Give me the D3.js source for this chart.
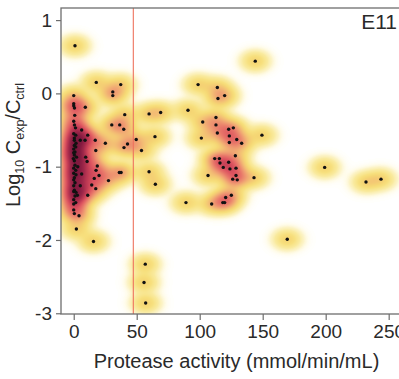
<!DOCTYPE html>
<html><head><meta charset="utf-8">
<script src="https://cdn.jsdelivr.net/npm/d3@7"></script>
<style>body{margin:0;background:#fff}svg{display:block}</style>
</head><body><div id="chart"></div>
<script>
// ---- data ----
const activity = [1.0,0,0,0,0.6,0.8,0,0.6,1.4,0,1.6,0.5,0.5,0.5,1.6,0,1.0,0.5,-0.3,0.5,1.0,3.2,1.6,0,0.5,0,0.5,0,1.8,1.0,2.9,0,1.6,0,0,0.5,4.2,2.1,1.8,0,2.2,0,1.8,1.0,0,
  9.2,6.3,11.1,5.2,9.0,17.1,25.1,17.5,9.5,10.6,18.7,17.7,20.1,6.3,16.3,27.6,14.3,17.5,5.2,11.1,15.7,17.9,37.3,31.0,31.0,
  40.5,30.2,36.5,39.7,49.6,42.7,39.9,53.8,64.5,59.8,69.0,36.2,37.6,59.8,64.8,56.8,55.8,57.1,
  90.7,98.7,114.0,119.8,114.5,144.1,102.4,112.9,112.9,114.0,123.0,126.7,123.5,129.4,123.5,133.3,149.4,101.3,
  128.3,111.9,115.6,116.1,123.0,118.7,124.0,128.8,106.6,128.8,126.2,129.8,143.1,89.1,109.5,118.3,119.8,120.6,125.1,
  199.2,232.0,243.9,169.5];
const logRatio = [0.65,-0.03,-0.14,-0.17,-0.2,-0.30,-0.38,-0.43,-0.47,-0.55,-0.57,-0.61,-0.64,-0.71,-0.73,-0.76,-0.80,-0.84,-0.89,-0.92,-0.98,-1.0,-1.05,-1.09,-1.15,-1.18,-1.32,-1.34,-1.35,-1.40,-1.39,-1.45,-1.49,-1.51,-1.59,-1.64,-1.67,-1.85,-0.68,-0.81,-0.87,-1.02,-1.11,-1.22,-1.26,
  -0.19,-0.50,-0.57,-0.64,-0.64,-0.64,-0.68,-0.78,-0.87,-0.93,-0.99,-1.05,-1.12,-1.10,-1.16,-1.19,-1.25,-1.30,-1.26,-1.39,-2.02,0.15,0.12,0.02,-0.03,
  -0.29,-0.43,-0.43,-0.49,-0.63,-0.69,-0.74,-0.78,-0.59,-0.28,-0.26,-1.08,-1.08,-1.07,-1.24,-2.33,-2.58,-2.86,
  -0.23,0.12,0.08,-0.03,-0.07,0.44,-0.39,-0.33,-0.43,-0.54,-0.49,-0.47,-0.58,-0.63,-0.67,-0.68,-0.57,-0.61,
  -0.85,-0.89,-0.89,-0.95,-0.94,-1.01,-1.03,-1.02,-1.12,-1.12,-1.17,-1.18,-1.15,-1.49,-1.51,-1.49,-1.49,-1.42,-1.39,
  -1.01,-1.21,-1.17,-1.99];
const xTicks = [0,50,100,150,200,250];
const yTicks = [1,0,-1,-2,-3];
const thresholdActivity = 47.3;
const panelLabel = "E11";
const xTitle = "Protease activity (mmol/min/mL)";

// ---- layout ----
const W = 399, H = 379;
const L = 61, T = 8, B = 314;
const x = d3.scaleLinear().domain([-10.1, 262]).range([L, 403.8]);
const y = d3.scaleLinear().domain([-3.01, 1.165]).range([B, T]);

const svg = d3.select("#chart").append("svg").attr("width", W).attr("height", H)
  .style("font-family", "'Liberation Sans', Arial, sans-serif");

// ---- density heat map ----
const pts = activity.map((a, i) => [x(a), y(logRatio[i])]);
const sx = 8.5, sy = 6.2;
const stops = [0, 0.05, 0.15, 0.35, 0.7, 1.0, 1.5, 2.2, 3.0, 4.0, 5.0, 6.2, 7.5, 9.5];
const cols = ["#ffffff","#fffcec","#fcf3c6","#f9ea9e","#f7e07e","#f5d674","#f3bf74","#ef9c72","#e8786a","#dd5560","#c23c55","#a0284a","#841a40","#6c1236"];
const cScale = d3.scaleLinear().domain(stops).range(cols).interpolate(d3.interpolateRgb).clamp(true);
const N = 2048, dMax = 14;
const lut = d3.range(N).map(i => d3.rgb(cScale(i / (N - 1) * dMax)));
const canvas = document.createElement("canvas");
canvas.width = W; canvas.height = H;
const ctx = canvas.getContext("2d");
const img = ctx.createImageData(W, H);
for (let py = T; py < B; py++) {
  for (let px = L; px < W; px++) {
    const cx = px + 0.5, cy = py + 0.5;
    let d = 0;
    for (const p of pts) {
      const dx = (cx - p[0]) / sx, dy = (cy - p[1]) / sy;
      const q = dx * dx + dy * dy;
      if (q < 30) d += Math.exp(-0.5 * q);
    }
    const c = lut[Math.min(N - 1, Math.round(d / dMax * (N - 1)))];
    const k = (py * W + px) * 4;
    img.data[k] = c.r; img.data[k + 1] = c.g; img.data[k + 2] = c.b; img.data[k + 3] = 255;
  }
}
ctx.putImageData(img, 0, 0);
svg.append("image").attr("x", 0).attr("y", 0).attr("width", W).attr("height", H)
  .attr("href", canvas.toDataURL());

// ---- threshold line ----
svg.append("line").attr("x1", x(thresholdActivity)).attr("x2", x(thresholdActivity))
  .attr("y1", T).attr("y2", B).attr("stroke", "#ee735e").attr("stroke-width", 1.1);

// ---- points ----
svg.append("g").selectAll("circle").data(pts).join("circle")
  .attr("cx", d => d[0]).attr("cy", d => d[1]).attr("r", 1.7).attr("fill", "#111");

// ---- frame ----
svg.append("rect").attr("x", L).attr("y", T).attr("width", 403.8 - L).attr("height", B - T)
  .attr("fill", "none").attr("stroke", "#6e6e6e").attr("stroke-width", 1.3);

// ---- axes ----
const gx = svg.append("g").attr("transform", `translate(0,${B})`)
  .call(d3.axisBottom(x).tickValues(xTicks).tickFormat(d => String(d)).tickSize(6).tickPadding(5));
const gy = svg.append("g").attr("transform", `translate(${L},0)`)
  .call(d3.axisLeft(y).tickValues(yTicks).tickFormat(d => String(d)).tickSize(5).tickPadding(4));
[gx, gy].forEach(g => {
  g.select(".domain").remove();
  g.selectAll(".tick line").attr("stroke", "#6e6e6e").attr("stroke-width", 1.2);
  g.selectAll(".tick text").attr("fill", "#2a2a2a").style("font-size", "19px")
    .style("font-family", "'Liberation Sans', Arial, sans-serif");
});

// ---- titles ----
svg.append("text").attr("x", 236.5).attr("y", 368).attr("text-anchor", "middle")
  .attr("fill", "#2a2a2a").style("font-size", "20px").text(xTitle);

const yl = svg.append("text").attr("transform", "translate(20,145) rotate(-90)")
  .attr("text-anchor", "middle").attr("fill", "#2a2a2a").style("font-size", "20px");
yl.append("tspan").text("Log");
yl.append("tspan").attr("dy", 4).style("font-size", "12.5px").text("10");
yl.append("tspan").attr("dy", -4).text("\u00a0C");
yl.append("tspan").attr("dy", 4).style("font-size", "12.5px").text("exp");
yl.append("tspan").attr("dy", -4).text("/C");
yl.append("tspan").attr("dy", 4).style("font-size", "12.5px").text("ctrl");

svg.append("text").attr("x", 397).attr("y", 29).attr("text-anchor", "end")
  .attr("fill", "#2a2a2a").style("font-size", "21px").text(panelLabel);
</script>
</body></html>
